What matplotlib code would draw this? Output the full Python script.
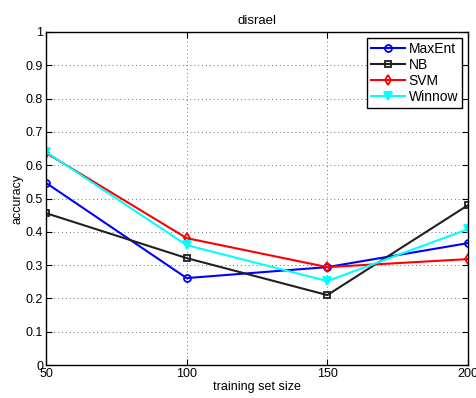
import matplotlib
matplotlib.use('Agg')
import matplotlib.pyplot as plt

plt.rcParams['font.family'] = ['Liberation Sans', 'DejaVu Sans']
plt.rcParams['font.size'] = 9

sizes = [50, 100, 150, 200]
maxent = [0.547, 0.261, 0.294, 0.366]
nb = [0.456, 0.321, 0.210, 0.480]
svm = [0.637, 0.381, 0.294, 0.318]
winnow = [0.640, 0.360, 0.252, 0.408]

fig = plt.figure(figsize=(4.77, 3.98), dpi=100)
ax = fig.add_axes([0.0964, 0.0829, 0.8847, 0.8367])

ax.plot(sizes, maxent, color='blue', marker='o', markersize=5, markerfacecolor='none', markeredgewidth=1.3, linewidth=1.5, label='MaxEnt')
ax.plot(sizes, nb, color='#202020', marker='s', markersize=4, markerfacecolor='none', markeredgewidth=1.3, linewidth=1.5, label='NB')
ax.plot(sizes, svm, color='red', marker='d', markersize=5, markerfacecolor='none', markeredgewidth=1.3, linewidth=1.5, label='SVM')
ax.plot(sizes, winnow, color='cyan', marker='v', markersize=6, markerfacecolor='cyan', markeredgewidth=1.3, linewidth=1.5, label='Winnow')

ax.set_xlim(50, 200)
ax.set_ylim(0, 1)
ax.set_xticks(sizes)
ax.set_yticks([i / 10 for i in range(11)])
ax.set_yticklabels(['0', '0.1', '0.2', '0.3', '0.4', '0.5', '0.6', '0.7', '0.8', '0.9', '1'])
ax.tick_params(direction='in', length=4, top=True, right=True, pad=2)
ax.grid(True, linestyle=(0, (1, 3)), color='#707070', linewidth=0.7)
for s in ax.spines.values():
    s.set_linewidth(1.0)

ax.set_title('disrael', fontsize=9.5)
ax.set_xlabel('training set size', labelpad=1)
ax.set_ylabel('accuracy', labelpad=2)

leg = ax.legend(loc='upper right', fancybox=False, edgecolor='black', framealpha=1, fontsize=10,
                handlelength=2.4, handletextpad=0.3, borderaxespad=0.4, labelspacing=0.15, borderpad=0.3)
leg.get_frame().set_linewidth(1.0)

fig.savefig('out.png')
